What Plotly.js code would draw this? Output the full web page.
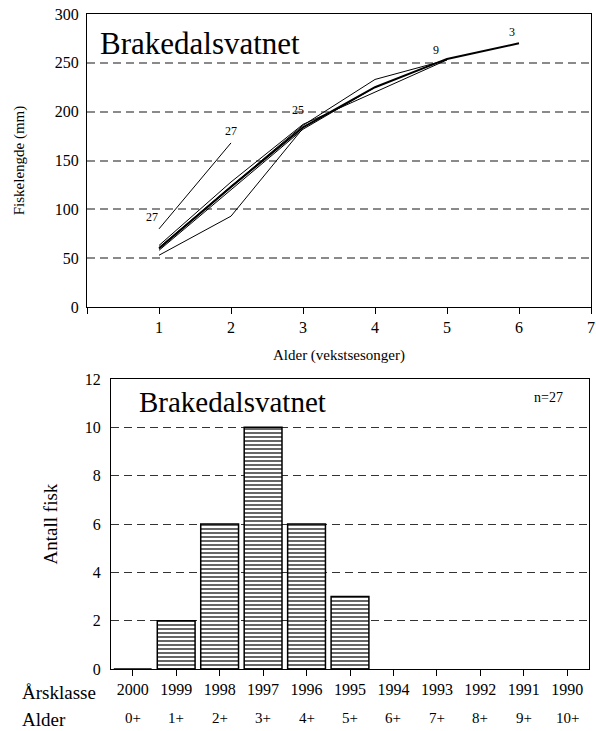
<!DOCTYPE html>
<html>
<head>
<meta charset="utf-8">
<script src="https://cdn.plot.ly/plotly-3.0.1.min.js"></script>
<style>html,body{margin:0;padding:0;background:#fff;}#chart{width:596px;height:731px;}</style>
</head>
<body>
<div id="chart"></div>
<script>
// ---- Top chart: back-calculated length by age ----
const growthAges = [1, 2, 3, 4, 5, 6];
const lineA = [80, 168];
const lineB = [53, 93, 183];
const lineC = [58, 120, 182, 225];
const lineD = [61, 124, 186, 233, 253];
const lineE = [63, 128, 187, 220, 253];
const meanLine = [60, 123, 184, 225, 254, 270];
const nLabels = ['27', '27', '25', '9', '3'];
const nLabelX = [0.9, 2.0, 2.93, 4.85, 5.9];
const nLabelY = [92, 180, 202, 263, 282];

// ---- Bottom chart: age distribution ----
const yearClasses = ['2000','1999','1998','1997','1996','1995','1994','1993','1992','1991','1990'];
const ageLabels = ['0+','1+','2+','3+','4+','5+','6+','7+','8+','9+','10+'];
const fishCounts = [0, 2, 6, 10, 6, 3, null, null, null, null, null];

const FONT = 'Liberation Serif';
const W = 596, H = 731;
const px = v => v / W;
const py = v => 1 - v / H;

function growthTrace(vals, w) {
  return {type: 'scatter', mode: 'lines', x: growthAges.slice(0, vals.length), y: vals,
    line: {color: 'black', width: w}, xaxis: 'x', yaxis: 'y', hoverinfo: 'skip', showlegend: false};
}
const traces = [
  growthTrace(lineA, 1), growthTrace(lineB, 1), growthTrace(lineC, 1),
  growthTrace(lineD, 1), growthTrace(lineE, 1), growthTrace(meanLine, 2),
  {type: 'bar', x: yearClasses, y: fishCounts, xaxis: 'x2', yaxis: 'y2', showlegend: false,
   marker: {color: 'white', line: {color: 'black', width: 1.5},
            pattern: {shape: '-', fgcolor: 'black', bgcolor: 'white', size: 4, solidity: 0.3}}}
];

const annotations = [];
nLabels.forEach((t, i) => annotations.push({x: nLabelX[i], y: nLabelY[i], xref: 'x', yref: 'y', text: t,
  showarrow: false, font: {family: FONT, size: 12, color: 'black'}}));
ageLabels.forEach((t, i) => annotations.push({x: i, y: py(718), xref: 'x2', yref: 'paper', text: t,
  showarrow: false, yanchor: 'middle', xanchor: 'center', font: {family: FONT, size: 15, color: 'black'}}));
annotations.push(
  {x: px(98), y: py(43), xref: 'paper', yref: 'paper', xanchor: 'left', yanchor: 'middle', text: 'Brakedalsvatnet',
   showarrow: false, font: {family: FONT, size: 31, color: 'black'}},
  {x: px(137), y: py(402), xref: 'paper', yref: 'paper', xanchor: 'left', yanchor: 'middle', text: 'Brakedalsvatnet',
   showarrow: false, font: {family: FONT, size: 29, color: 'black'}},
  {x: px(548), y: py(397), xref: 'paper', yref: 'paper', xanchor: 'center', yanchor: 'middle', text: 'n=27',
   showarrow: false, font: {family: FONT, size: 14, color: 'black'}},
  {x: px(20), y: py(692), xref: 'paper', yref: 'paper', xanchor: 'left', yanchor: 'middle', text: 'Årsklasse',
   showarrow: false, font: {family: FONT, size: 19, color: 'black'}},
  {x: px(20), y: py(719), xref: 'paper', yref: 'paper', xanchor: 'left', yanchor: 'middle', text: 'Alder',
   showarrow: false, font: {family: FONT, size: 19, color: 'black'}}
);

const layout = {
  width: W, height: H, margin: {l: 0, r: 0, t: 0, b: 0},
  paper_bgcolor: 'white', plot_bgcolor: 'white',
  font: {family: FONT, color: 'black'},
  bargap: 0.13,
  xaxis: {domain: [px(87), px(591)], anchor: 'y', range: [0, 7], tickvals: [0,1,2,3,4,5,6,7],
    ticktext: ['', '1','2','3','4','5','6','7'], ticks: 'outside', ticklen: 6, tickcolor: 'black',
    showline: true, linecolor: 'black', linewidth: 1, mirror: true, showgrid: false, zeroline: false,
    tickfont: {family: FONT, size: 16},
    title: {text: 'Alder (vekstsesonger)', font: {family: FONT, size: 15}, standoff: 14}},
  yaxis: {domain: [py(307), py(14)], anchor: 'x', range: [0, 300], tickvals: [0,50,100,150,200,250,300],
    ticks: '', showline: true, linecolor: 'black', linewidth: 1, mirror: true, zeroline: false,
    showgrid: true, gridcolor: '#8a8a8a', gridwidth: 2, griddash: '8px,5px',
    tickfont: {family: FONT, size: 16}, ticklabelstandoff: 4,
    title: {text: 'Fiskelengde (mm)', font: {family: FONT, size: 15}, standoff: 26}},
  xaxis2: {domain: [px(111), px(589)], anchor: 'y2', type: 'category', range: [-0.5, 10.5],
    ticks: 'outside', ticklen: 6, tickcolor: 'black', showline: true, linecolor: 'black', linewidth: 1,
    mirror: true, showgrid: false, zeroline: false, tickfont: {family: FONT, size: 16}},
  yaxis2: {domain: [py(669), py(379)], anchor: 'x2', range: [0, 12], tickvals: [0,2,4,6,8,10,12],
    ticks: '', showline: true, linecolor: 'black', linewidth: 1, mirror: true, zeroline: false,
    showgrid: true, gridcolor: '#333', gridwidth: 1, griddash: '8px,5px',
    tickfont: {family: FONT, size: 16}, ticklabelstandoff: 6,
    title: {text: 'Antall fisk', font: {family: FONT, size: 19}, standoff: 22}},
  annotations: annotations
};

Plotly.newPlot('chart', traces, layout, {staticPlot: true, displayModeBar: false});
</script>
</body>
</html>
